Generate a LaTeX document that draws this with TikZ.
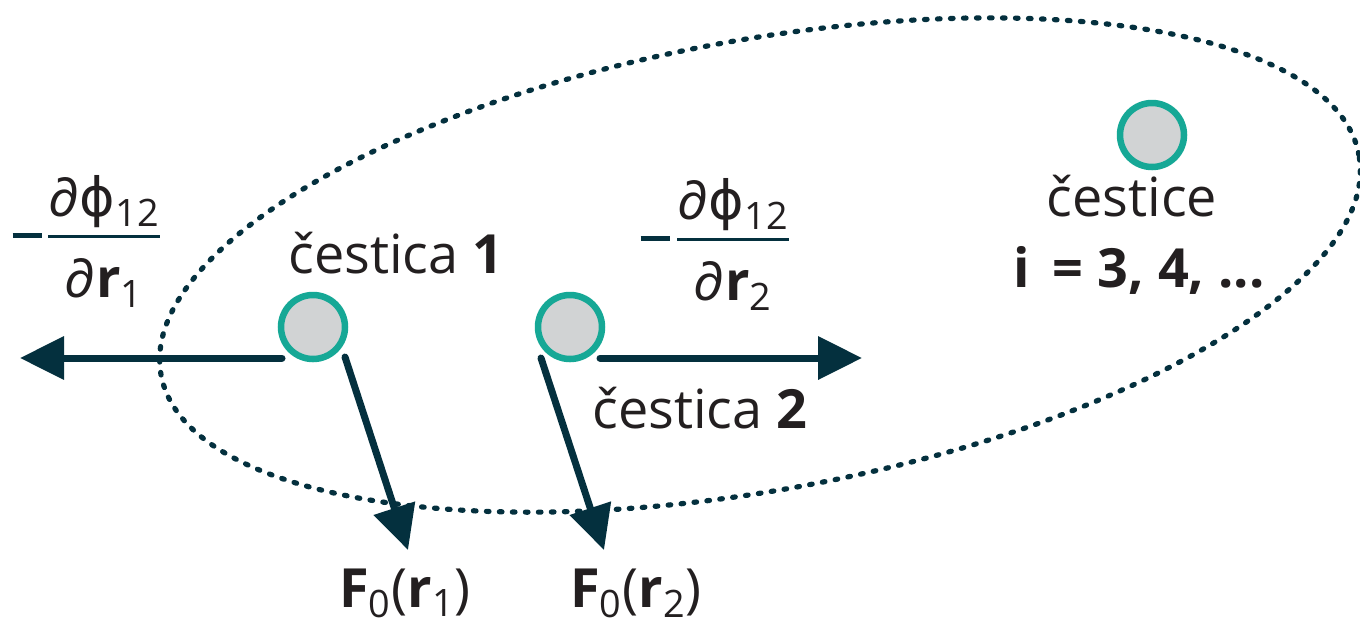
\documentclass[tikz,border=0pt]{standalone}
\usepackage{fontspec}
\usepackage{colortbl}
\setmainfont{Open Sans}
\newfontfamily\symfont{DejaVu Sans}
\usetikzlibrary{arrows.meta, shapes.geometric}
\definecolor{navy}{RGB}{4,48,62}
\definecolor{ptline}{RGB}{22,168,150}
\definecolor{ptfill}{RGB}{209,211,212}
\definecolor{txt}{RGB}{35,31,32}
\newcommand{\pfrac}[2]{\arrayrulecolor{navy}\setlength{\arrayrulewidth}{1.5pt}%
  \begin{tabular}{@{}c@{}}#1\\\hline\rule{0pt}{1.1em}#2\end{tabular}}

\begin{document}
\begin{tikzpicture}[
  x=0.5pt, y=-0.5pt,
  every node/.style={font=\fontsize{27}{32}\selectfont, text=txt},
  particle/.style={circle, draw=ptline, line width=3.25pt, fill=ptfill,
                   minimum size=32pt, inner sep=0pt},
  swarm/.style={ellipse, draw=navy, line width=2.6pt, line cap=round,
                dash pattern=on 1.3pt off 5.2pt, minimum width=609pt,
                minimum height=225pt, inner sep=0pt},
  force/.style={-{Triangle[length=22pt, width=21pt]}, line width=3.5pt,
                draw=navy, line cap=round},
  minus/.style={text=navy, inner sep=0pt},
]
\useasboundingbox[fill=white] (0,0) rectangle (1360,628);

\node[swarm, rotate=10.4] (cloud) at (760,265) {};

\node[particle] (p1) at (313,327) {};
\node[particle] (p2) at (570,327) {};
\node[particle] (p3) at (1152,135) {};

\node[anchor=base] (l1)  at (396,273)  {čestica \textbf{1}};
\node[anchor=base] (l2)  at (700,428)  {čestica \textbf{2}};
\node[anchor=base] (l3)  at (1132,216) {čestice};
\node[anchor=base] (l3n) at (1139,287) {\textbf{i\, = 3, 4, ...}};

% interaction terms
\node (g1) at (104,244) {\pfrac{∂{\symfont ϕ}\textsubscript{12}}{∂\textbf{r}\textsubscript{1}}};
\node[minus] (m1) at (27,235) {\rule{14.5pt}{2.5pt}};
\node (g2) at (733,247) {\pfrac{∂{\symfont ϕ}\textsubscript{12}}{∂\textbf{r}\textsubscript{2}}};
\node[minus] (m2) at (655,238) {\rule{14.5pt}{2.5pt}};

\node[anchor=base] (f1) at (405,607) {\textbf{F}\textsubscript{0}(\textbf{r}\textsubscript{1})};
\node[anchor=base] (f2) at (636,607) {\textbf{F}\textsubscript{0}(\textbf{r}\textsubscript{2})};

\coordinate (t1) at (20,358);
\coordinate (t2) at (862,358);
\coordinate (t3) at (408,550);
\coordinate (t4) at (604,550);

\draw[force] ([shift={(-31,31)}]p1.center) -- (t1);
\draw[force] ([shift={(30,31)}]p2.center)  -- (t2);
\draw[force] ([shift={(32,30)}]p1.center)  -- (t3);
\draw[force] ([shift={(-29,31)}]p2.center) -- (t4);
\end{tikzpicture}
\end{document}
